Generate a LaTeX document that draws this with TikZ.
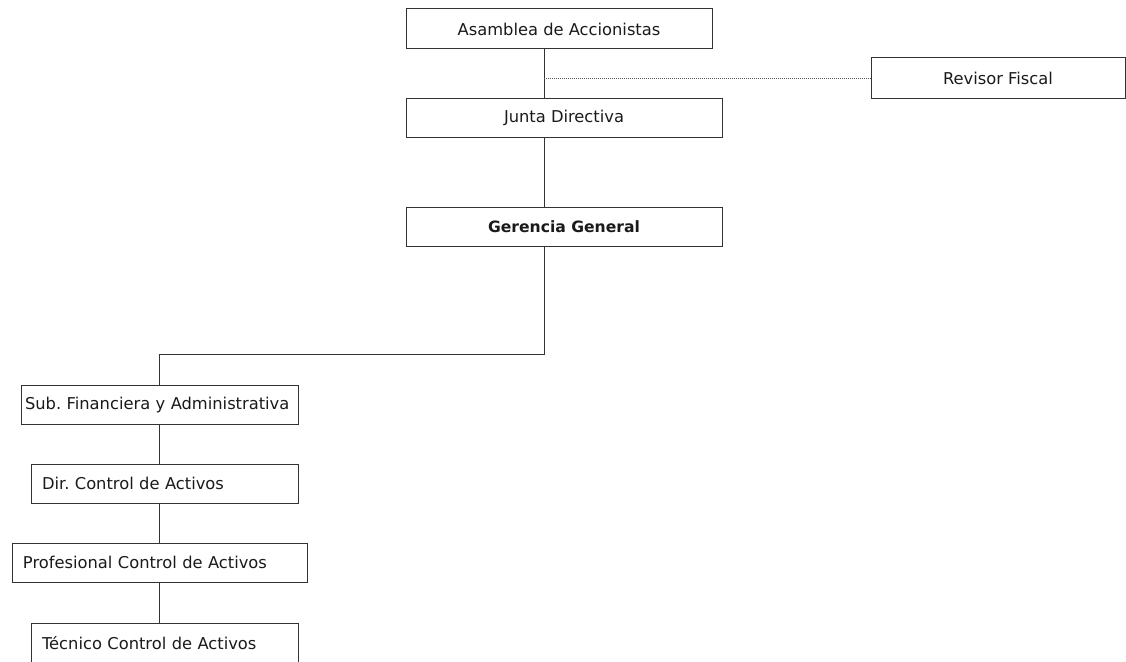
\documentclass[tikz,border=0pt]{standalone}
\usepackage{fontspec}
\setmainfont{DejaVu Sans}
\frenchspacing
\definecolor{linec}{HTML}{333333}
\definecolor{textc}{HTML}{1A1A1A}
\definecolor{dotc}{HTML}{555555}
\tikzset{
  box/.style={draw=linec, line width=1pt, rectangle, inner sep=0pt,
    font=\fontsize{16.3}{19}\selectfont, text=textc},
  cbox/.style={box, align=center},
  lbox/.style={box, align=left, inner xsep=11pt},
  conn/.style={draw=linec, line width=1pt},
  dotconn/.style={draw=dotc, line width=0.8pt, dash pattern=on 1pt off 1pt}
}
\begin{document}
\frenchspacing
\begin{tikzpicture}[x=1pt,y=-1pt]
\useasboundingbox (0,0) rectangle (1126,661);
\clip (0,0) rectangle (1126,661);
\node[cbox, minimum width=306pt, minimum height=40pt] (asam) at (559,29) {Asamblea de Accionistas};
\node[cbox, minimum width=316pt, minimum height=39pt] (junta) at (564,117.5) {Junta Directiva};
\node[cbox, minimum width=254pt, minimum height=40pt] (rev) at (998,78) {Revisor Fiscal};
\node[cbox, minimum width=316pt, minimum height=39pt, font=\fontsize{15.6}{19}\selectfont\bfseries] (ger) at (564,226.5) {Gerencia General};
\node[lbox, inner xsep=4pt, text width=269pt, minimum height=39pt] (sub) at (159.5,404.5) {\mbox{Sub.\ Financiera y Administrativa}};
\node[lbox, text width=245pt, minimum height=39pt] (dir) at (164.5,483.5) {\mbox{Dir.\ Control de Activos}};
\node[lbox, text width=273pt, minimum height=39pt] (prof) at (159.5,562.5) {\mbox{Profesional Control de Activos}};
\node[lbox, text width=245pt, minimum height=40pt] (tec) at (164.5,643) {\mbox{Técnico Control de Activos}};
\coordinate (tx) at (544,0);
\coordinate (bx) at (159,0);
\coordinate (dot) at (544,78);
\coordinate (c0) at (544,354.5);
\coordinate (c1) at (159,354.5);
\draw[conn] (asam.south -| tx) -- (junta.north -| tx);
\draw[dotconn] (dot) -- (rev.west);
\draw[conn] (junta.south -| tx) -- (ger.north -| tx);
\draw[conn] (ger.south -| tx) -- (c0) -- (c1) -- (sub.north -| bx);
\draw[conn] (sub.south -| bx) -- (dir.north -| bx);
\draw[conn] (dir.south -| bx) -- (prof.north -| bx);
\draw[conn] (prof.south -| bx) -- (tec.north -| bx);
\end{tikzpicture}
\end{document}
